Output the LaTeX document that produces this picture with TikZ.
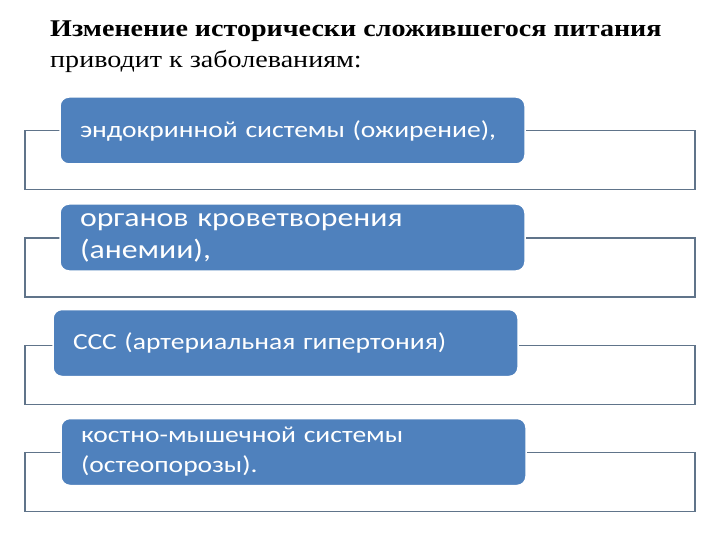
\documentclass[tikz,border=0pt]{standalone}
\usepackage{fontspec}
\setmainfont{Liberation Serif}[FakeStretch=1.17]
\newfontfamily\boxfont{Carlito}[FakeStretch=1.2]
\usetikzlibrary{positioning}
\definecolor{itemblue}{RGB}{79,129,189}
\definecolor{framegray}{RGB}{96,116,138}

\begin{document}
\begin{tikzpicture}[x=1pt,y=-1pt,
  frame/.style={draw=framegray,line width=1.6pt,minimum width=670pt,minimum height=59pt,inner sep=0pt},
  item/.style={fill=itemblue,draw=white,line width=1.5pt,rounded corners=9pt,text=white,
    minimum width=465pt,minimum height=67pt,text width=425pt,inner xsep=20pt,inner ysep=0pt,
    align=left,font=\boxfont\fontsize{23}{30}\selectfont},
  big/.style={font=\boxfont\fontsize{26.5}{32}\selectfont}]
  \useasboundingbox (0,0) rectangle (720,540);
  \node[anchor=base west,inner sep=0pt,align=left,font=\fontsize{24}{31}\selectfont] (title) at (50,68)
    {\textbf{Изменение исторически сложившегося питания}\\приводит к заболеваниям:};
  \node[frame] (fr1) at (360,160) {};
  \node[frame] (fr2) at (360,267.5) {};
  \node[frame] (fr3) at (360,375) {};
  \node[frame] (fr4) at (360,482) {};
  \node[item] (endo) at (292.5,130.5) {эндокринной системы (ожирение),};
  \node[item,big] (blood) at (292.5,237.5) {\raisebox{-3pt}{органов кроветворения}\\\raisebox{-3pt}{(анемии),}};
  \node[item] (heart) at (285.5,343) {ССС (артериальная гипертония)};
  \node[item] (bones) at (293.5,452) {костно-мышечной системы\\(остеопорозы).};
\end{tikzpicture}
\end{document}
